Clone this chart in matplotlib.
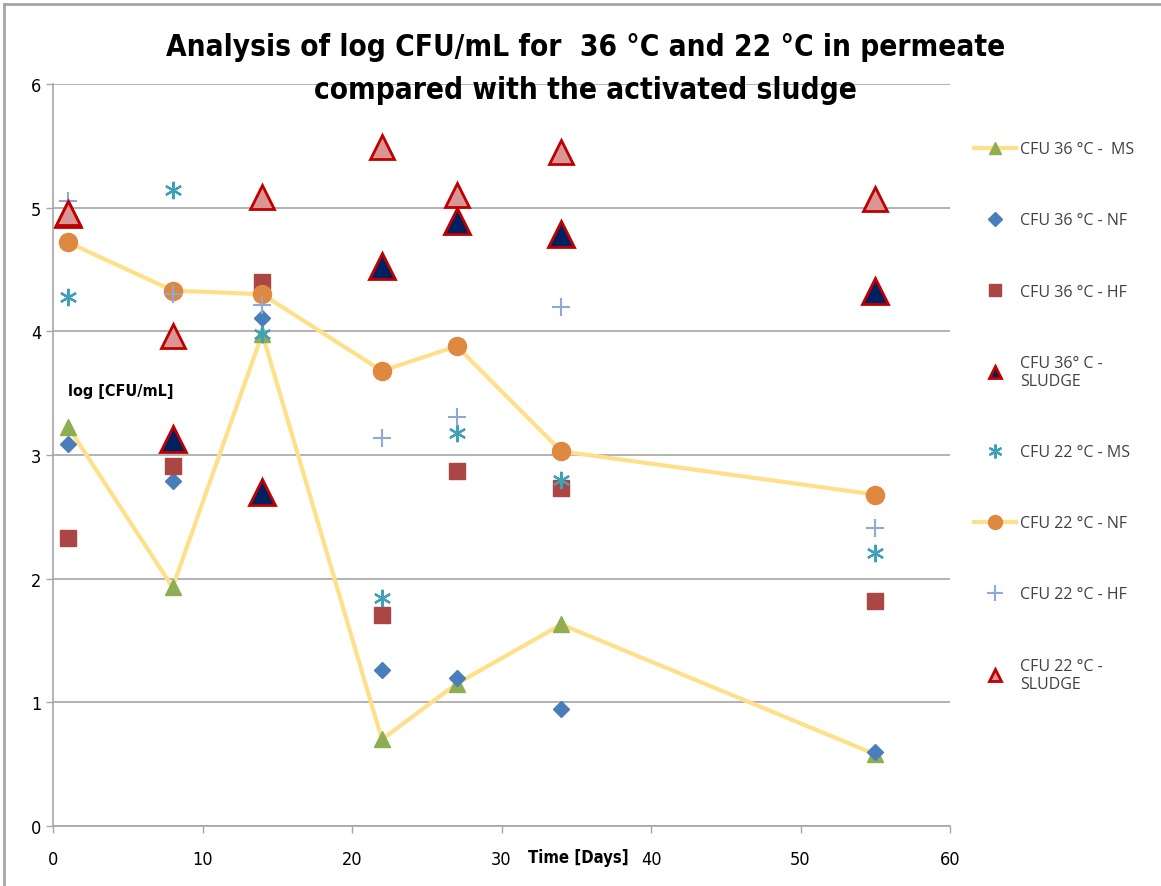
import matplotlib
matplotlib.use("Agg")
import matplotlib.pyplot as plt
from matplotlib import font_manager
from matplotlib.lines import Line2D

# sampling days
days = [1, 8, 14, 22, 27, 34, 55]

# log CFU/mL at 36 °C
cfu36_ms = [3.23, 1.93, 3.98, 0.70, 1.15, 1.63, 0.58]
cfu36_nf = [3.09, 2.79, 4.11, 1.26, 1.20, 0.95, 0.60]
cfu36_hf = [2.33, 2.91, 4.40, 1.71, 2.87, 2.73, 1.82]
cfu36_sludge = [4.95, 3.13, 2.70, 4.53, 4.89, 4.79, 4.33]

# log CFU/mL at 22 °C
cfu22_ms = [4.28, 5.14, 3.98, 1.84, 3.18, 2.80, 2.21]
cfu22_nf = [4.72, 4.33, 4.30, 3.68, 3.88, 3.03, 2.68]
cfu22_hf = [5.05, 4.30, 4.21, 3.14, 3.31, 4.20, 2.41]
cfu22_sludge = [4.96, 3.96, 5.09, 5.49, 5.10, 5.45, 5.07]

labels = ["CFU 36 °C -  MS", "CFU 36 °C - NF", "CFU 36 °C - HF",
          "CFU 36° C -\nSLUDGE", "CFU 22 °C - MS", "CFU 22 °C - NF",
          "CFU 22 °C - HF", "CFU 22 °C -\nSLUDGE"]

line_col = "#FFE08A"

# narrow font for title / axis texts if there is one
installed = {f.name for f in font_manager.fontManager.ttflist}
if "Liberation Sans Narrow" in installed:
    narrow = dict(family="Liberation Sans Narrow")
else:
    narrow = dict(family="DejaVu Sans", stretch="condensed")

styles = [
    dict(color=line_col, lw=3, marker="^", mfc="#8FAE52", mec="#8FAE52"),
    dict(ls="none", marker="D", mfc="#4A7EBB", mec="#4A7EBB"),
    dict(ls="none", marker="s", mfc="#AA4643", mec="#AA4643"),
    dict(ls="none", marker="^", mfc="#002060", mec="#C00000", mew=2),
    dict(ls="none", marker=(6, 2, 0), mec="#3FA0B8", mew=1.6),
    dict(color=line_col, lw=3, marker="o", mfc="#DE8840", mec="#DE8840"),
    dict(ls="none", marker="+", mec="#8EA9D4", mew=1.5),
    dict(ls="none", marker="^", mfc="#D99694", mec="#C00000", mew=2),
]
sizes = [12, 8.5, 11.5, 19, 12.5, 13, 13, 17]
leg_sizes = [9, 7, 9, 9, 10, 10, 11, 9]
series = [cfu36_ms, cfu36_nf, cfu36_hf, cfu36_sludge,
          cfu22_ms, cfu22_nf, cfu22_hf, cfu22_sludge]

fig = plt.figure(figsize=(11.61, 8.87), dpi=100)
ax = fig.add_axes([53/1161, 60/887, 897/1161, 742/887])

for vals, st, ms in zip(series, styles, sizes):
    ax.plot(days, vals, ms=ms, **st)

ax.set_xlim(0, 60)
ax.set_ylim(0, 6)
ax.set_xticks(range(0, 61, 10))
ax.set_yticks(range(0, 7))
ax.grid(axis="y", color="#A6A6A6", lw=1.2)
ax.set_axisbelow(True)
for s in ["top", "right"]:
    ax.spines[s].set_visible(False)
for s in ["left", "bottom"]:
    ax.spines[s].set_color("#A6A6A6")
    ax.spines[s].set_linewidth(1.2)
ax.tick_params(colors="#A6A6A6", length=5, width=1, labelcolor="black",
               labelsize=13)
ax.tick_params(axis="x", pad=12)
for t in ax.get_xticklabels() + ax.get_yticklabels():
    t.set(**narrow)

ax.text(1.0, 3.52, "log [CFU/mL]", fontsize=11.5, fontweight="bold",
        va="center", **narrow)
ax.text(31.8, -0.25, "Time [Days]", fontsize=12, fontweight="bold",
        va="center", clip_on=False, **narrow)

fig.text(0.504, 0.947, "Analysis of log CFU/mL for  36 °C and 22 °C in permeate",
         ha="center", va="center", fontsize=21.3, fontweight="bold", **narrow)
fig.text(0.504, 0.898, "compared with the activated sludge",
         ha="center", va="center", fontsize=21.3, fontweight="bold", **narrow)

handles = [Line2D([], [], ms=ms, **st) for st, ms in zip(styles, leg_sizes)]
leg = ax.legend(handles, labels, loc="upper left",
                bbox_to_anchor=(960/1161, 759/887),
                bbox_transform=fig.transFigure, frameon=False,
                labelspacing=3.45, handlelength=2.6, handletextpad=0.25,
                prop={"family": ["Open Sans", "DejaVu Sans"], "size": 11.5})
for t in leg.get_texts():
    t.set_color("#404040")

# outer chart frame
fig.add_artist(Line2D([4/1161, 4/1161], [0, 882/887], color="#A6A6A6",
                      lw=2, transform=fig.transFigure))
fig.add_artist(Line2D([4/1161, 1], [882/887, 882/887], color="#A6A6A6",
                      lw=2, transform=fig.transFigure))

fig.savefig("out.png", dpi=100)
